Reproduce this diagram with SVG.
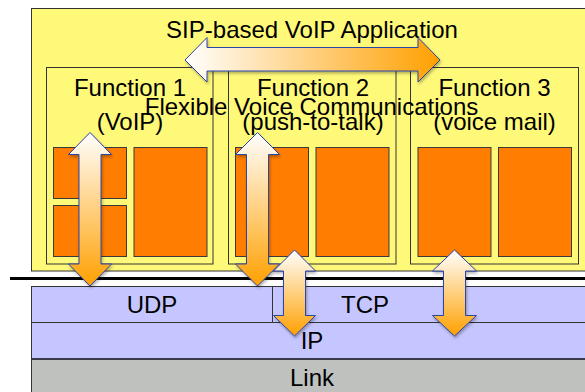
<svg xmlns="http://www.w3.org/2000/svg" width="585" height="392" viewBox="0 0 585 392">
  <style>
    text { font-family: "Liberation Sans", Arial, sans-serif; font-size: 24px; fill: #000; text-anchor: middle; }
    .app { fill: #FFF97A; stroke: #333; stroke-width: 1; }
    .func { fill: #FFF97A; stroke: #333; stroke-width: 1; }
    .blk { fill: #FF7D00; stroke: #3a3a3a; stroke-width: 1; }
    .layer { fill: #C5C6FF; stroke: #333; stroke-width: 1; }
    .linkl { fill: #BFC1BE; stroke: #333; stroke-width: 1; }
    .arrow { stroke: #2B44A8; stroke-width: 1; stroke-linejoin: miter; filter: url(#shadow); }
  </style>
  <defs>
    <linearGradient id="gradH" x1="0" y1="0" x2="1" y2="0">
      <stop offset="0" stop-color="#FFFFFF"/>
      <stop offset="1" stop-color="#FFA000"/>
    </linearGradient>
    <linearGradient id="gradV" x1="0" y1="0" x2="0" y2="1">
      <stop offset="0" stop-color="#FFFFFF"/>
      <stop offset="1" stop-color="#FFA000"/>
    </linearGradient>
    <filter id="shadow" x="-20%" y="-20%" width="140%" height="140%">
      <feDropShadow dx="1" dy="2" stdDeviation="1.5" flood-color="#000" flood-opacity="0.3"/>
    </filter>
  </defs>

  <rect width="585" height="392" fill="#FFFFFF"/>

  <!-- application frame -->
  <g id="application">
    <rect class="app" x="31.5" y="8.5" width="560" height="262.5"/>
    <text x="312" y="38">SIP-based VoIP Application</text>
  </g>

  <!-- function 1 -->
  <g id="function1">
    <rect class="func" x="46.5" y="67.5" width="166.5" height="196.5"/>
    <rect class="blk" x="53.5" y="147.5" width="73" height="51"/>
    <rect class="blk" x="53.5" y="205.5" width="73" height="51"/>
    <rect class="blk" x="134" y="147.5" width="73" height="109"/>
    <text x="130" y="96">Function 1</text>
    <text x="130" y="130">(VoIP)</text>
  </g>

  <!-- function 2 -->
  <g id="function2">
    <rect class="func" x="228.5" y="67.5" width="167.5" height="196.5"/>
    <rect class="blk" x="235.5" y="147.5" width="73" height="109"/>
    <rect class="blk" x="316" y="147.5" width="73" height="109"/>
    <text x="313" y="96">Function 2</text>
    <text x="313" y="130">(push-to-talk)</text>
  </g>

  <!-- function 3 -->
  <g id="function3">
    <rect class="func" x="410.5" y="67.5" width="168" height="196.5"/>
    <rect class="blk" x="418" y="147.5" width="73" height="109"/>
    <rect class="blk" x="498.5" y="147.5" width="73" height="109"/>
    <text x="494.5" y="96">Function 3</text>
    <text x="494.5" y="130">(voice mail)</text>
  </g>

  <g id="caption">
    <text x="311.5" y="115">Flexible Voice Communications</text>
  </g>

  <!-- boundary between application and transport -->
  <line x1="10" y1="278.5" x2="585" y2="278.5" stroke="#000" stroke-width="3"/>

  <!-- protocol layers -->
  <g id="udp">
    <rect class="layer" x="31.5" y="286.5" width="241" height="36"/>
    <text x="152" y="313">UDP</text>
  </g>
  <g id="tcp">
    <rect class="layer" x="272.5" y="286.5" width="320" height="36"/>
    <text x="365" y="313">TCP</text>
  </g>
  <g id="ip">
    <rect class="layer" x="31.5" y="322.5" width="560" height="36.5"/>
    <text x="312" y="349">IP</text>
  </g>
  <g id="link">
    <rect class="linkl" x="31.5" y="359" width="560" height="40"/>
    <line x1="31.5" y1="359" x2="585" y2="359" stroke="#3a3a48" stroke-width="2"/>
    <text x="312" y="386">Link</text>
  </g>

  <!-- connectors -->
  <g id="connectors">
    <path class="arrow" fill="url(#gradH)" d="M185,60 L207,37.5 L207,47.5 L418,47.5 L418,37.5 L440,60 L418,82 L418,71 L207,71 L207,82 Z"/>
    <path class="arrow" fill="url(#gradV)" d="M90,132.5 L111.5,154.5 L101,154.5 L101,264 L111.5,264 L90,286 L68.5,264 L79,264 L79,154.5 L68.5,154.5 Z"/>
    <path class="arrow" fill="url(#gradV)" d="M257.5,132.5 L279.5,154.5 L268.5,154.5 L268.5,264 L279.5,264 L257.5,286 L235.5,264 L246.5,264 L246.5,154.5 L235.5,154.5 Z"/>
    <path class="arrow" fill="url(#gradV)" d="M294.5,250 L315.5,271 L305.5,271 L305.5,315.5 L315.5,315.5 L294.5,336 L273.5,315.5 L283.5,315.5 L283.5,271 L273.5,271 Z"/>
    <path class="arrow" fill="url(#gradV)" d="M454.5,250 L476.5,271 L465.5,271 L465.5,315.5 L476.5,315.5 L454.5,336 L432.5,315.5 L443.5,315.5 L443.5,271 L432.5,271 Z"/>
  </g>
</svg>
